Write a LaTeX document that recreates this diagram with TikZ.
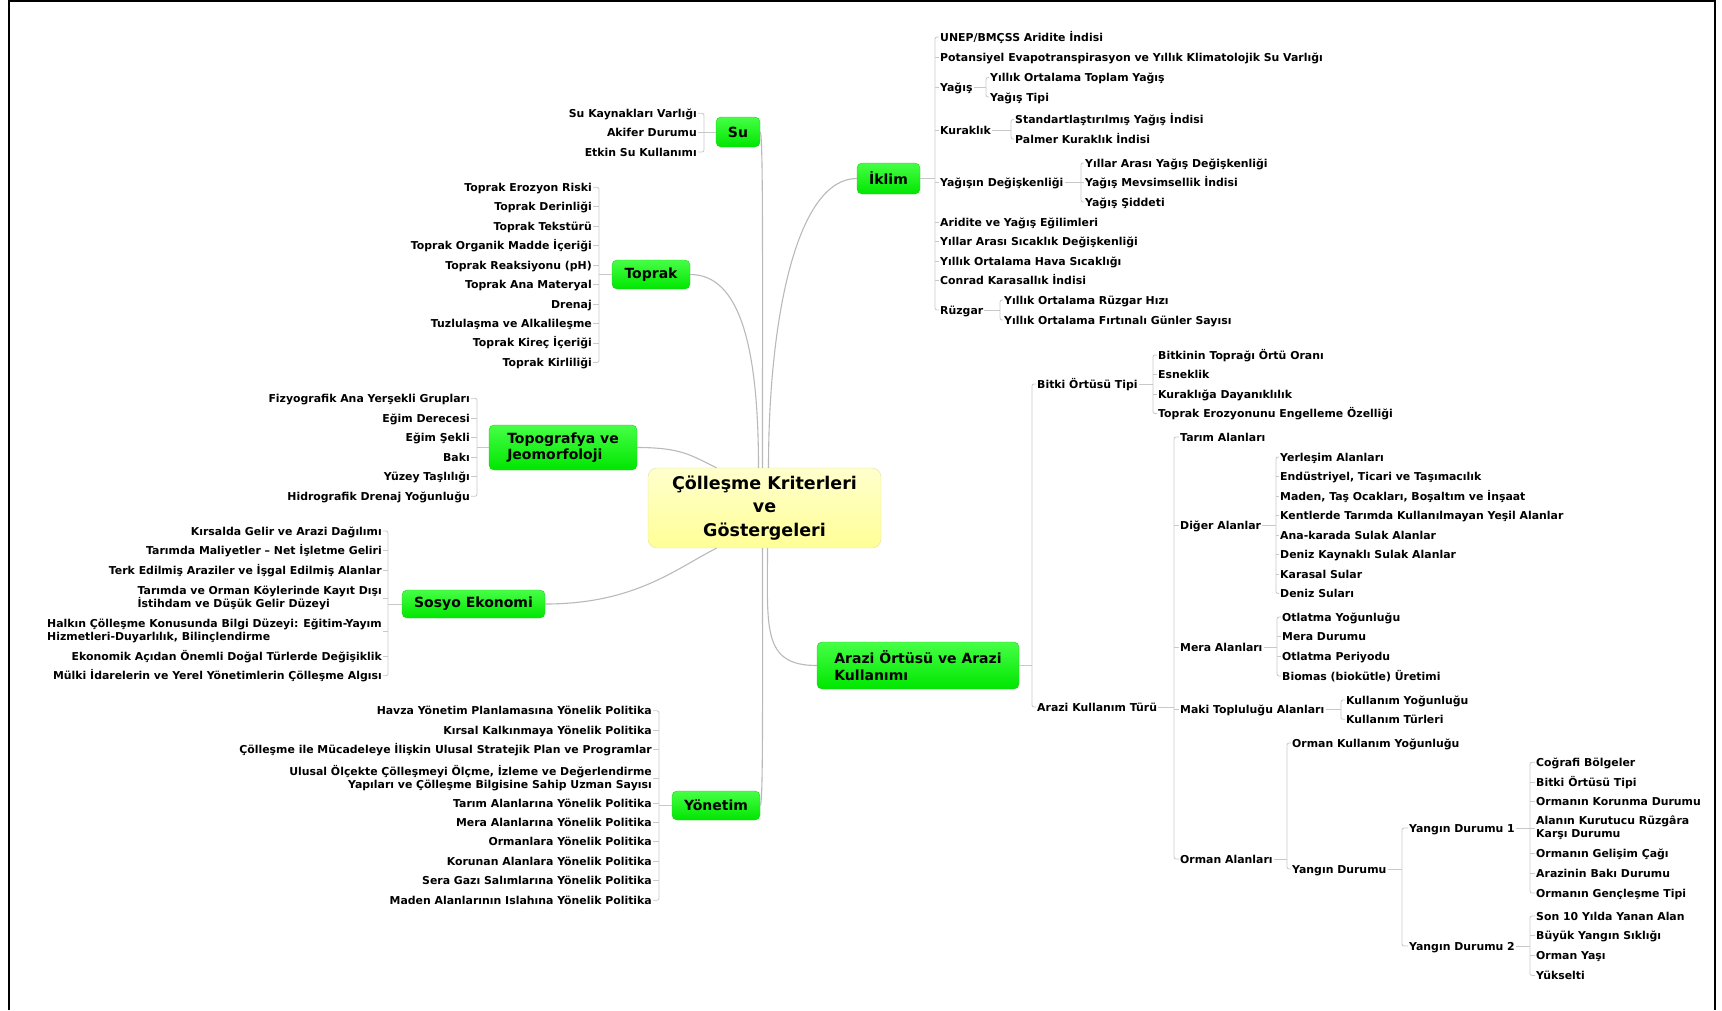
\documentclass[tikz,border=0pt]{standalone}
\usepackage{fontspec}
\setmainfont{DejaVu Sans}
\newcommand\leaffont{\fontsize{10.9}{13.3}\selectfont\bfseries}
\newcommand\branchfont{\fontsize{14}{16.5}\selectfont\bfseries}
\newcommand\corefont{\fontsize{17.5}{23.5}\selectfont\bfseries}
\definecolor{branchtop}{RGB}{70,255,70}
\definecolor{branchbot}{RGB}{0,230,0}
\definecolor{branchedge}{RGB}{40,200,40}
\definecolor{coretop}{RGB}{255,255,205}
\definecolor{corebot}{RGB}{255,255,150}
\definecolor{coreedge}{RGB}{225,225,170}
\definecolor{linkgrey}{RGB}{200,200,200}
\definecolor{trunkgrey}{RGB}{185,185,185}
\begin{document}
\begin{tikzpicture}[x=1pt, y=-1pt,
  leafbase/.style={font=\leaffont, inner sep=1pt},
  leaf/.style={leafbase, text height=9.5pt, text depth=1.5pt},
  branch/.style={draw=branchedge, top color=branchtop, bottom color=branchbot, rounded corners=5pt, font=\branchfont, align=left, inner sep=0pt},
  core/.style={draw=coreedge, top color=coretop, bottom color=corebot, rounded corners=9pt, font=\corefont, align=center, inner sep=0pt},
  link/.style={draw=linkgrey, line width=0.8pt},
  trunk/.style={draw=trunkgrey, line width=1.1pt}]
\useasboundingbox (0,0) rectangle (1722,1010);
\draw[black, line width=1.2pt] (9,1010) -- (9,1) -- (1715,1) -- (1715,1010);

% centre and main branches
\node[core, minimum width=233, minimum height=80] (core) at (764.5,508) {Çölleşme Kriterleri\\ve\\Göstergeleri};
\node[branch, minimum width=44, minimum height=30] (su) at (738,132) {Su};
\node[branch, minimum width=78, minimum height=29] (toprak) at (651,274.5) {Toprak};
\node[branch, minimum width=148, minimum height=45] (topo) at (563,447.5) {Topografya ve\\Jeomorfoloji};
\node[branch, minimum width=143, minimum height=28] (sosyo) at (473.5,604) {Sosyo Ekonomi};
\node[branch, minimum width=88, minimum height=29] (yonetim) at (716,805.5) {Yönetim};
\node[branch, minimum width=63, minimum height=31] (iklim) at (888.5,178.5) {İklim};
\node[branch, minimum width=202, minimum height=47] (arazi) at (918,665.5) {Arazi Örtüsü ve Arazi\\Kullanımı};

\draw[trunk] (su.east) .. controls +(3,0) and +(0,-200) .. ([xshift=-2]core.north);
\draw[trunk] (toprak.east) .. controls +(50,0) and +(0,-120) .. ([xshift=-6]core.north);
\draw[trunk] (iklim.west) .. controls +(-60,0) and +(0,-150) .. ([xshift=4]core.north);
\draw[trunk] (topo.east) .. controls +(45,0) and +(-25,-12) .. ([xshift=-48]core.north);
\draw[trunk] (sosyo.east) .. controls +(90,0) and +(-40,20) .. ([xshift=-48]core.south);
\draw[trunk] (yonetim.east) .. controls +(3,0) and +(0,150) .. ([xshift=-2]core.south);
\draw[trunk] (arazi.west) .. controls +(-55,0) and +(0,80) .. ([xshift=3]core.south);

% Su
\foreach \y/\t [count=\i] in {113.3/Su Kaynakları Varlığı, 132.7/Akifer Durumu, 152/Etkin Su Kullanımı}
  \node[leaf, anchor=east] (su\i) at (698,\y) {\t};
\coordinate (suB) at (704,132);
\draw[link, rounded corners=2] (su1.east) -| (suB) |- (su3.east);
\draw[link] (su2.east) -- (su2.east -| suB);
\draw[link] (suB) -- (su.west);

% Toprak
\foreach \y/\t [count=\i] in {187.3/Toprak Erozyon Riski, 206.8/Toprak Derinliği, 226.3/Toprak Tekstürü,
    245.8/Toprak Organik Madde İçeriği, 265.2/Toprak Reaksiyonu (pH), 284.6/Toprak Ana Materyal,
    304/Drenaj, 323.5/Tuzlulaşma ve Alkalileşme, 342.9/Toprak Kireç İçeriği, 362.4/Toprak Kirliliği}
  \node[leaf, anchor=east] (tp\i) at (593,\y) {\t};
\coordinate (tpB) at (599,274.5);
\draw[link, rounded corners=2] (tp1.east) -| (tpB) |- (tp10.east);
\foreach \i in {2,...,9} \draw[link] (tp\i.east) -- (tp\i.east -| tpB);
\draw[link] (tpB) -- (toprak.west);

% Topografya
\foreach \y/\t [count=\i] in {398.3/Fizyografik Ana Yerşekli Grupları, 418/Eğim Derecesi, 437.6/Eğim Şekli,
    457.2/Bakı, 476.8/Yüzey Taşlılığı, 496.3/Hidrografik Drenaj Yoğunluğu}
  \node[leaf, anchor=east] (tg\i) at (471,\y) {\t};
\coordinate (tgB) at (477,447.5);
\draw[link, rounded corners=2] (tg1.east) -| (tgB) |- (tg6.east);
\foreach \i in {2,...,5} \draw[link] (tg\i.east) -- (tg\i.east -| tgB);
\draw[link] (tgB) -- (topo.west);

% Sosyo Ekonomi
\foreach \y/\t [count=\i] in {531/Kırsalda Gelir ve Arazi Dağılımı, 550.5/Tarımda Maliyetler – Net İşletme Geliri,
    570/Terk Edilmiş Araziler ve İşgal Edilmiş Alanlar}
  \node[leaf, anchor=east] (so\i) at (383,\y) {\t};
\node[leafbase, anchor=east, align=left] (so4) at (383,598) {Tarımda ve Orman Köylerinde Kayıt Dışı\\İstihdam ve Düşük Gelir Düzeyi};
\node[leafbase, anchor=east, align=left] (so5) at (383,631) {Halkın Çölleşme Konusunda Bilgi Düzeyi: Eğitim-Yayım\\Hizmetleri-Duyarlılık, Bilinçlendirme};
\foreach \y/\t [count=\i from 6] in {656/Ekonomik Açıdan Önemli Doğal Türlerde Değişiklik,
    675.8/Mülki İdarelerin ve Yerel Yönetimlerin Çölleşme Algısı}
  \node[leaf, anchor=east] (so\i) at (383,\y) {\t};
\coordinate (soB) at (388,604);
\draw[link, rounded corners=2] (so1.east) -| (soB) |- (so7.east);
\foreach \i in {2,...,6} \draw[link] (so\i.east) -- (so\i.east -| soB);
\draw[link] (soB) -- (sosyo.west);

% Yonetim
\foreach \y/\t [count=\i] in {710.8/Havza Yönetim Planlamasına Yönelik Politika, 730.2/Kırsal Kalkınmaya Yönelik Politika,
    749.6/Çölleşme ile Mücadeleye İlişkin Ulusal Stratejik Plan ve Programlar}
  \node[leaf, anchor=east] (yo\i) at (653,\y) {\t};
\node[leafbase, anchor=east, align=right] (yo4) at (653,778) {Ulusal Ölçekte Çölleşmeyi Ölçme, İzleme ve Değerlendirme\\Yapıları ve Çölleşme Bilgisine Sahip Uzman Sayısı};
\foreach \y/\t [count=\i from 5] in {803/Tarım Alanlarına Yönelik Politika, 822/Mera Alanlarına Yönelik Politika,
    841.5/Ormanlara Yönelik Politika, 861/Korunan Alanlara Yönelik Politika,
    880.7/Sera Gazı Salımlarına Yönelik Politika, 900.3/Maden Alanlarının Islahına Yönelik Politika}
  \node[leaf, anchor=east] (yo\i) at (653,\y) {\t};
\coordinate (yoB) at (659,805.5);
\draw[link, rounded corners=2] (yo1.east) -| (yoB) |- (yo10.east);
\foreach \i in {2,...,9} \draw[link] (yo\i.east) -- (yo\i.east -| yoB);
\draw[link] (yoB) -- (yonetim.west);

% Iklim
\foreach \y/\t [count=\i] in {37/{UNEP/BMÇSS Aridite İndisi}, 57/Potansiyel Evapotranspirasyon ve Yıllık Klimatolojik Su Varlığı,
    87/Yağış, 130/Kuraklık, 182.5/Yağışın Değişkenliği, 222/Aridite ve Yağış Eğilimleri,
    241.7/Yıllar Arası Sıcaklık Değişkenliği, 261.4/Yıllık Ortalama Hava Sıcaklığı,
    280.7/Conrad Karasallık İndisi, 310/Rüzgar}
  \node[leaf, anchor=west] (ik\i) at (939,\y) {\t};
\coordinate (ikB) at (935,178.5);
\draw[link, rounded corners=2] (ik1.west) -| (ikB) |- (ik10.west);
\foreach \i in {2,...,9} \draw[link] (ik\i.west) -- (ik\i.west -| ikB);
\draw[link] (iklim.east) -- (ikB);

\foreach \y/\t [count=\i] in {77.5/Yıllık Ortalama Toplam Yağış, 97/Yağış Tipi}
  \node[leaf, anchor=west] (ya\i) at (989,\y) {\t};
\coordinate (yaB) at (986,87);
\draw[link, rounded corners=2] (ya1.west) -| (yaB) |- (ya2.west);
\draw[link] (ik3.east) -- (yaB);

\foreach \y/\t [count=\i] in {119.5/Standartlaştırılmış Yağış İndisi, 139/Palmer Kuraklık İndisi}
  \node[leaf, anchor=west] (ku\i) at (1014,\y) {\t};
\coordinate (kuB) at (1011,130);
\draw[link, rounded corners=2] (ku1.west) -| (kuB) |- (ku2.west);
\draw[link] (ik4.east) -- (kuB);

\foreach \y/\t [count=\i] in {163/Yıllar Arası Yağış Değişkenliği, 182.5/Yağış Mevsimsellik İndisi, 202/Yağış Şiddeti}
  \node[leaf, anchor=west] (yd\i) at (1084,\y) {\t};
\coordinate (ydB) at (1081,182.5);
\draw[link, rounded corners=2] (yd1.west) -| (ydB) |- (yd3.west);
\draw[link] (ik5.east) -- (yd2.west);

\foreach \y/\t [count=\i] in {300/Yıllık Ortalama Rüzgar Hızı, 320/Yıllık Ortalama Fırtınalı Günler Sayısı}
  \node[leaf, anchor=west] (ru\i) at (1003,\y) {\t};
\coordinate (ruB) at (1000,310);
\draw[link, rounded corners=2] (ru1.west) -| (ruB) |- (ru2.west);
\draw[link] (ik10.east) -- (ruB);

% Arazi Ortusu ve Arazi Kullanimi
\node[leaf, anchor=west] (ar1) at (1036,384) {Bitki Örtüsü Tipi};
\node[leaf, anchor=west] (ar2) at (1036,707) {Arazi Kullanım Türü};
\coordinate (arB) at (1032,665.5);
\draw[link, rounded corners=2] (ar1.west) -| (arB) |- (ar2.west);
\draw[link] (arazi.east) -- (arB);

\foreach \y/\t [count=\i] in {355/Bitkinin Toprağı Örtü Oranı, 374.5/Esneklik, 394/Kuraklığa Dayanıklılık,
    413.5/Toprak Erozyonunu Engelleme Özelliği}
  \node[leaf, anchor=west] (bi\i) at (1157,\y) {\t};
\coordinate (biB) at (1153,384);
\draw[link, rounded corners=2] (bi1.west) -| (biB) |- (bi4.west);
\foreach \i in {2,3} \draw[link] (bi\i.west) -- (bi\i.west -| biB);
\draw[link] (ar1.east) -- (biB);

\foreach \y/\t [count=\i] in {437/Tarım Alanları, 525.5/Diğer Alanlar, 647/Mera Alanları,
    709.4/Maki Topluluğu Alanları, 859/Orman Alanları}
  \node[leaf, anchor=west] (ak\i) at (1179,\y) {\t};
\coordinate (akB) at (1174,707);
\draw[link, rounded corners=2] (ak1.west) -| (akB) |- (ak5.west);
\foreach \i in {2,...,4} \draw[link] (ak\i.west) -- (ak\i.west -| akB);
\draw[link] (ar2.east) -- (akB);

\foreach \y/\t [count=\i] in {457/Yerleşim Alanları, 476.5/{Endüstriyel, Ticari ve Taşımacılık},
    496/{Maden, Taş Ocakları, Boşaltım ve İnşaat}, 515.5/Kentlerde Tarımda Kullanılmayan Yeşil Alanlar,
    535/Ana-karada Sulak Alanlar, 554.5/Deniz Kaynaklı Sulak Alanlar, 574/Karasal Sular, 593.5/Deniz Suları}
  \node[leaf, anchor=west] (di\i) at (1279,\y) {\t};
\coordinate (diB) at (1276,525.5);
\draw[link, rounded corners=2] (di1.west) -| (diB) |- (di8.west);
\foreach \i in {2,...,7} \draw[link] (di\i.west) -- (di\i.west -| diB);
\draw[link] (ak2.east) -- (diB);

\foreach \y/\t [count=\i] in {617/Otlatma Yoğunluğu, 636.7/Mera Durumu, 656.5/Otlatma Periyodu, 676/Biomas (biokütle) Üretimi}
  \node[leaf, anchor=west] (me\i) at (1281,\y) {\t};
\coordinate (meB) at (1277,647);
\draw[link, rounded corners=2] (me1.west) -| (meB) |- (me4.west);
\foreach \i in {2,3} \draw[link] (me\i.west) -- (me\i.west -| meB);
\draw[link] (ak3.east) -- (meB);

\foreach \y/\t [count=\i] in {700/Kullanım Yoğunluğu, 719.3/Kullanım Türleri}
  \node[leaf, anchor=west] (mk\i) at (1345,\y) {\t};
\coordinate (mkB) at (1341,709.4);
\draw[link, rounded corners=2] (mk1.west) -| (mkB) |- (mk2.west);
\draw[link] (ak4.east) -- (mkB);

\foreach \y/\t [count=\i] in {743/Orman Kullanım Yoğunluğu, 869/Yangın Durumu}
  \node[leaf, anchor=west] (or\i) at (1291,\y) {\t};
\coordinate (orB) at (1287,859);
\draw[link, rounded corners=2] (or1.west) -| (orB) |- (or2.west);
\draw[link] (ak5.east) -- (orB);

\foreach \y/\t [count=\i] in {828/Yangın Durumu 1, 946/Yangın Durumu 2}
  \node[leaf, anchor=west] (yn\i) at (1408,\y) {\t};
\coordinate (ynB) at (1402,869);
\draw[link, rounded corners=2] (yn1.west) -| (ynB) |- (yn2.west);
\draw[link] (or2.east) -- (ynB);

\foreach \y/\t [count=\i] in {762.3/Coğrafi Bölgeler, 782/Bitki Örtüsü Tipi, 801.7/Ormanın Korunma Durumu}
  \node[leaf, anchor=west] (yb\i) at (1535,\y) {\t};
\node[leafbase, anchor=west, align=left] (yb4) at (1535,828) {Alanın Kurutucu Rüzgâra\\Karşı Durumu};
\foreach \y/\t [count=\i from 5] in {853.5/Ormanın Gelişim Çağı, 873.2/Arazinin Bakı Durumu, 893/Ormanın Gençleşme Tipi}
  \node[leaf, anchor=west] (yb\i) at (1535,\y) {\t};
\coordinate (ybB) at (1530,828);
\draw[link, rounded corners=2] (yb1.west) -| (ybB) |- (yb7.west);
\foreach \i in {2,...,6} \draw[link] (yb\i.west) -- (yb\i.west -| ybB);
\draw[link] (yn1.east) -- (ybB);

\foreach \y/\t [count=\i] in {916/Son 10 Yılda Yanan Alan, 935.8/Büyük Yangın Sıklığı, 955.6/Orman Yaşı, 975.4/Yükselti}
  \node[leaf, anchor=west] (yc\i) at (1535,\y) {\t};
\coordinate (ycB) at (1530,946);
\draw[link, rounded corners=2] (yc1.west) -| (ycB) |- (yc4.west);
\foreach \i in {2,3} \draw[link] (yc\i.west) -- (yc\i.west -| ycB);
\draw[link] (yn2.east) -- (ycB);
\end{tikzpicture}
\end{document}
